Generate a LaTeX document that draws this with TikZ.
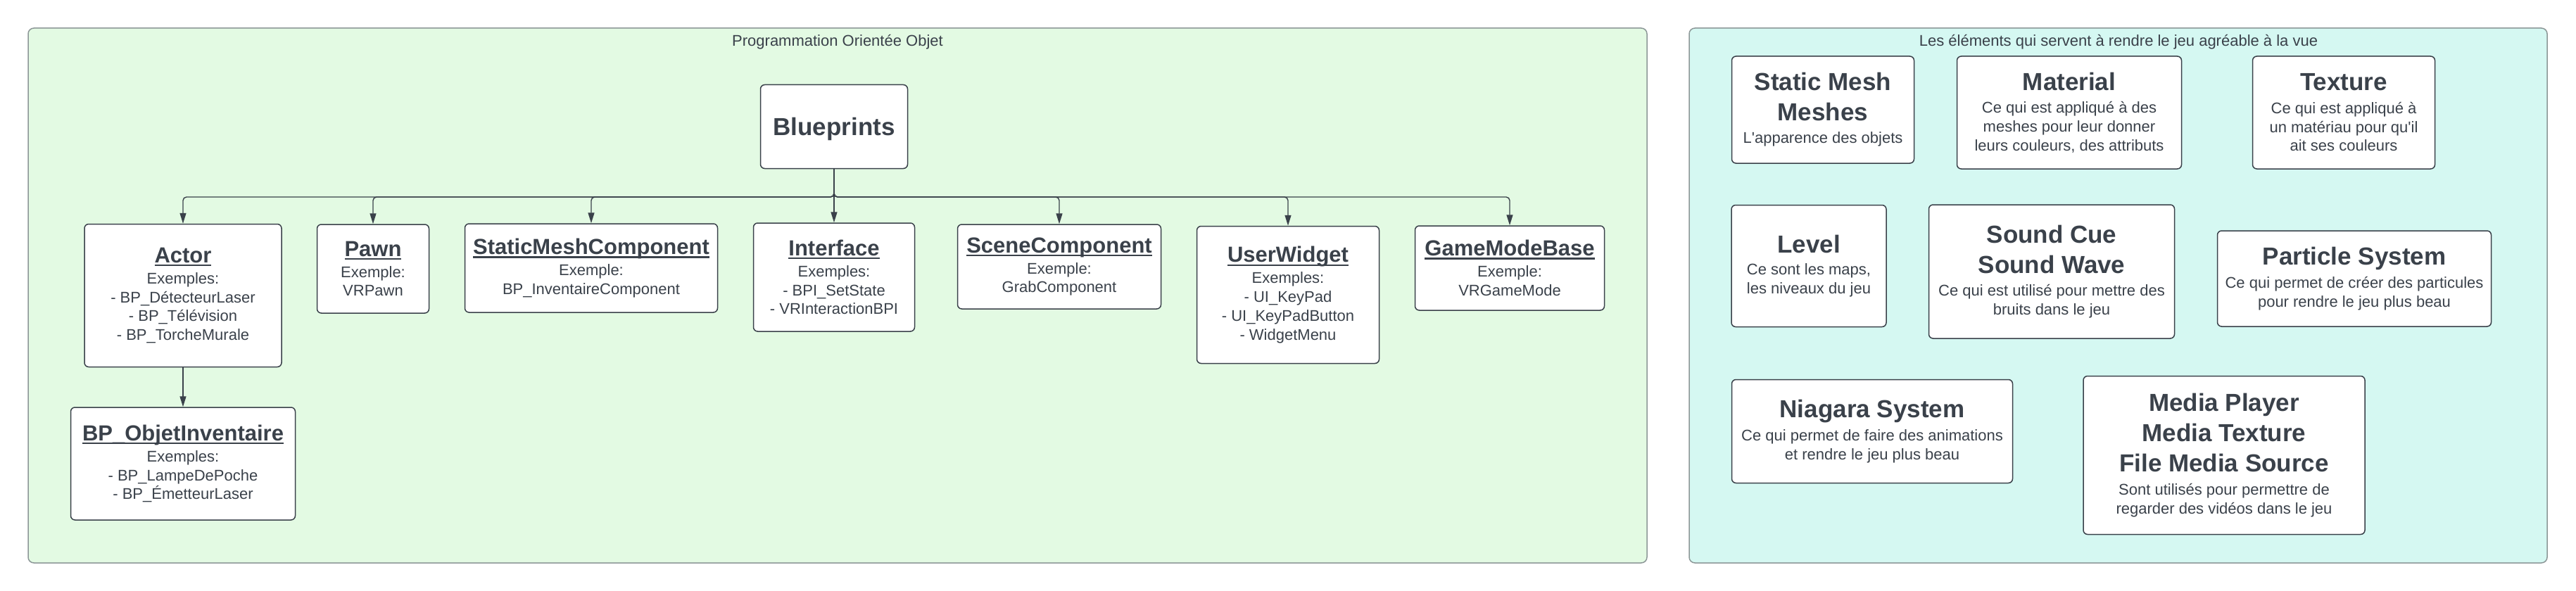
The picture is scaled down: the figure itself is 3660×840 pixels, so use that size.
\documentclass[tikz,border=0pt]{standalone}
\usepackage{fontspec}
\setmainfont{Liberation Sans}
\usetikzlibrary{arrows.meta}

\definecolor{ink}{HTML}{3A414A}
\definecolor{oopgreen}{HTML}{E3FAE3}
\definecolor{viscyan}{HTML}{D5F8F2}
\definecolor{framegrey}{HTML}{8C9797}

\newcommand{\classname}[1]{{\fontsize{31}{31}\selectfont\bfseries
  \setbox0=\hbox{#1}\rlap{\rule[-5pt]{\wd0}{2.4pt}}\box0}}
\newcommand{\assetname}[1]{\raisebox{0pt}[\height][0pt]{\fontsize{35}{35}\selectfont\bfseries #1}}

\begin{document}
\begin{tikzpicture}[x=1pt,y=-1pt,
    font=\fontsize{22}{26.7}\selectfont, text=ink,
    zone/.style={draw=framegrey,line width=1.5pt,rounded corners=8pt},
    card/.style 2 args={draw=ink,fill=white,line width=1.5pt,rounded corners=6pt,
      align=center,inner sep=0pt,minimum width=#1,minimum height=#2},
    link/.style={draw=ink,line width=1.4pt,rounded corners=5pt,-{Triangle[length=15pt,width=9pt]}}]
  \useasboundingbox (0,0) rectangle (3660,840);
  % the two frames
  \draw[zone,fill=oopgreen] (40,40) rectangle (2340,800);
  \draw[zone,fill=viscyan] (2400,40) rectangle (3619,800);
  \node[anchor=base] (oop) at (1190,66) {Programmation Orientée Objet};
  \node[anchor=base] (vis) at (3010,66) {Les éléments qui servent à rendre le jeu agréable à la vue};

  % class tree
  \node[card={209}{119}] (bp) at (1185,180) {\assetname{Blueprints}};
  \node[card={280}{203}] (actor) at (260,420)
    {\classname{Actor}\\[3.3pt]Exemples:\\- BP\_DétecteurLaser\\- BP\_Télévision\\- BP\_TorcheMurale};
  \node[card={159}{126}] (pawn) at (530,382) {\classname{Pawn}\\[3.3pt]Exemple:\\VRPawn};
  \node[card={359}{126}] (smc) at (840,381)
    {\classname{StaticMeshComponent}\\[3.3pt]Exemple:\\BP\_InventaireComponent};
  \node[card={229}{154}] (iface) at (1185,394)
    {\classname{Interface}\\[3.3pt]Exemples:\\- BPI\_SetState\\- VRInteractionBPI};
  \node[card={289}{120}] (scene) at (1505,379) {\classname{SceneComponent}\\[3.3pt]Exemple:\\GrabComponent};
  \node[card={259}{195}] (uwidget) at (1830,419)
    {\classname{UserWidget}\\[3.3pt]Exemples:\\- UI\_KeyPad\\- UI\_KeyPadButton\\- WidgetMenu};
  \node[card={269}{120}] (gmb) at (2145,381) {\classname{GameModeBase}\\[3.3pt]Exemple:\\VRGameMode};
  \node[card={319}{160}] (objinv) at (260,659)
    {\classname{BP\_ObjetInventaire}\\[3.3pt]Exemples:\\- BP\_LampeDePoche\\- BP\_ÉmetteurLaser};

  \coordinate (bus) at (0,280);
  \foreach \kid in {actor,pawn,smc,scene,uwidget,gmb}
    \draw[link] (bp.south) -- (bp.south |- bus) -| (\kid.north);
  \draw[link] (bp) -- (iface);
  \draw[link] (actor) -- (objinv);

  % visual assets
  \node[card={259}{152}] (smesh) at (2590,156)
    {\assetname{Static Mesh}\\[16.3pt]\assetname{Meshes}\\[5.3pt]L\textquotesingle apparence des objets};
  \node[card={319}{160}] (material) at (2940,160)
    {\assetname{Material}\\[6pt]Ce qui est appliqué à des\\meshes pour leur donner\\leurs couleurs, des attributs};
  \node[card={259}{160}] (texture) at (3330,160)
    {\assetname{Texture}\\[6pt]Ce qui est appliqué à\\un matériau pour qu\textquotesingle il\\ait ses couleurs};
  \node[card={220}{173}] (level) at (2570,378) {\assetname{Level}\\[4.3pt]Ce sont les maps,\\les niveaux du jeu};
  \node[card={349}{190}] (sound) at (2915,386)
    {\assetname{Sound Cue}\\[16.3pt]\assetname{Sound Wave}\\[6pt]Ce qui est utilisé pour mettre des\\bruits dans le jeu};
  \node[card={389}{136}] (particle) at (3345,396)
    {\assetname{Particle System}\\[6pt]Ce qui permet de créer des particules\\pour rendre le jeu plus beau};
  \node[card={399}{147}] (niagara) at (2660,613)
    {\assetname{Niagara System}\\[6pt]Ce qui permet de faire des animations\\et rendre le jeu plus beau};
  \node[card={400}{225}] (media) at (3160,647)
    {\assetname{Media Player}\\[16.3pt]\assetname{Media Texture}\\[16.3pt]\assetname{File Media Source}\\[6pt]Sont utilisés pour permettre de\\regarder des vidéos dans le jeu};
\end{tikzpicture}
\end{document}
